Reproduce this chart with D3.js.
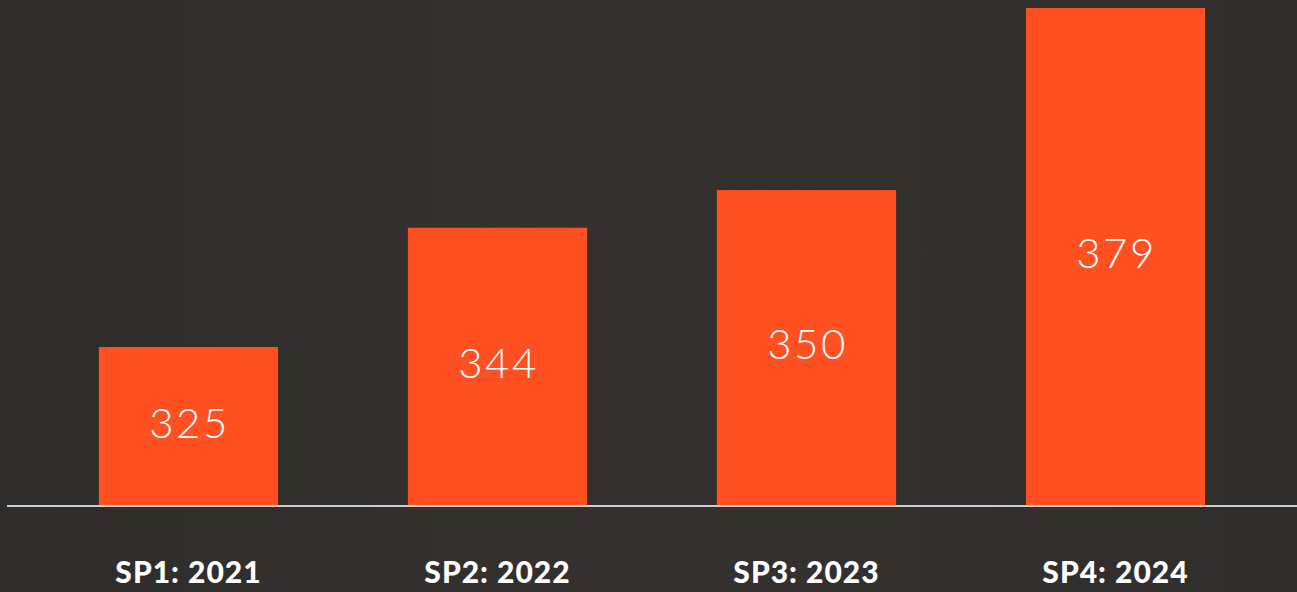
<!DOCTYPE html>
<html>
<head>
<meta charset="utf-8">
<script src="https://cdn.jsdelivr.net/npm/d3@7"></script>
<style>
  html, body { margin: 0; padding: 0; background: #312e2c; overflow: hidden; }
  svg { display: block; }
</style>
</head>
<body>
<svg id="chart"></svg>
<script>
// sp labels + intake numbers
var categories = ["SP1: 2021", "SP2: 2022", "SP3: 2023", "SP4: 2024"];
var values = [325, 344, 350, 379];
var yDomain = [300, 379];

var svgWidth = 1297, svgHeight = 592;
var baseY = 506, topY = 8;

var svg = d3.select("#chart")
    .attr("width", svgWidth)
    .attr("height", svgHeight);

// background, slightly lighter toward the middle like the photo behind
var defs = svg.append("defs");
var grad = defs.append("linearGradient")
    .attr("id", "bg")
    .attr("x1", "0").attr("x2", "1").attr("y1", "0").attr("y2", "0");
grad.append("stop").attr("offset", "0%").attr("stop-color", "#2f2d2c");
grad.append("stop").attr("offset", "50%").attr("stop-color", "#343130");
grad.append("stop").attr("offset", "100%").attr("stop-color", "#302e2d");
svg.append("rect")
    .attr("width", svgWidth)
    .attr("height", svgHeight)
    .attr("fill", "url(#bg)");

var x = d3.scaleBand()
    .domain(categories)
    .range([34, 1270])
    .paddingInner(0.42)
    .paddingOuter(0.21);

// scale's zero sits a touch above the drawn baseline
var y = d3.scaleLinear()
    .domain(yDomain)
    .range([504, topY]);

var data = categories.map(function(c, i) { return { cat: c, value: values[i] }; });

svg.append("g")
    .selectAll("rect")
    .data(data)
    .enter()
    .append("rect")
    .attr("x", function(d) { return x(d.cat); })
    .attr("y", function(d) { return y(d.value); })
    .attr("width", x.bandwidth())
    .attr("height", function(d) { return baseY - y(d.value); })
    .attr("fill", "#ff5021");

// value labels inside bars
svg.append("g")
    .selectAll("text")
    .data(data)
    .enter()
    .append("text")
    .attr("x", function(d) { return x(d.cat) + x.bandwidth() / 2 + 1; })
    .attr("y", function(d) { return (y(d.value) + baseY) / 2 - 4; })
    .attr("dy", "0.36em")
    .attr("text-anchor", "middle")
    .attr("fill", "#ffffff")
    .style("font-family", "Lato, 'Open Sans', sans-serif")
    .style("font-weight", 300)
    .style("font-size", "42px")
    .style("letter-spacing", "2.5px")
    .text(function(d) { return d.value; });

// baseline axis
var axis = svg.append("g")
    .attr("transform", "translate(0," + baseY + ")")
    .call(d3.axisBottom(x).tickSize(0).tickPadding(0));
axis.select(".domain").remove();
axis.append("line")
    .attr("x1", 7)
    .attr("x2", svgWidth)
    .attr("stroke", "#cfcfcf")
    .attr("stroke-width", 2);
axis.selectAll(".tick text")
    .attr("y", 77)
    .attr("dy", 0)
    .attr("fill", "#ffffff")
    .style("font-family", "Lato, 'Open Sans', sans-serif")
    .style("font-weight", 900)
    .style("font-size", "30px")
    .style("letter-spacing", "1px");
</script>
</body>
</html>
